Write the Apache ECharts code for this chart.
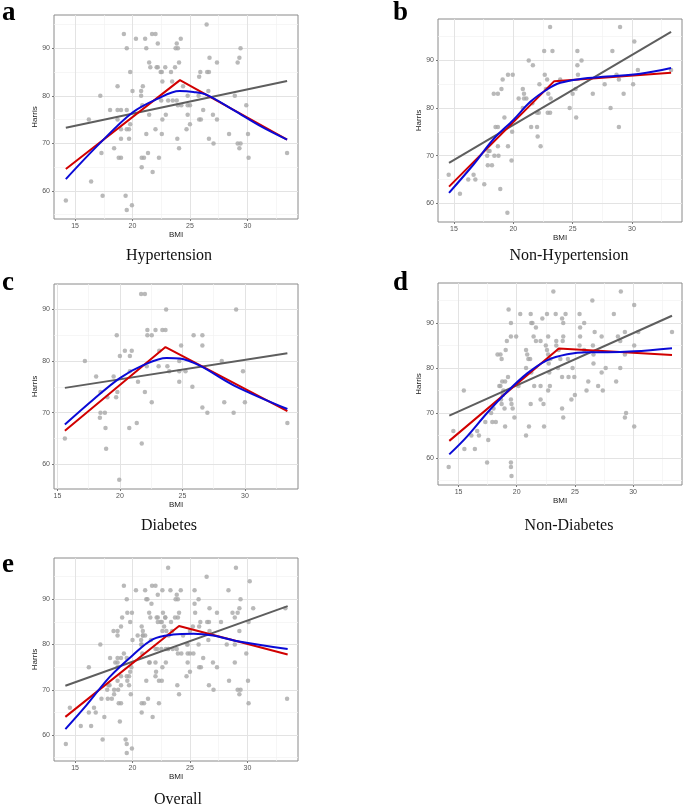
<!DOCTYPE html>
<html><head><meta charset="utf-8">
<script src="https://cdn.jsdelivr.net/npm/echarts@6/dist/echarts.min.js"></script>
<style>html,body{margin:0;padding:0;background:#fff}#c{width:685px;height:809px}</style>
</head><body><div id="c"></div>
<script>
// ---------- tick labels ----------
const xTicks = [15, 20, 25, 30];
const xMinor = [12.5, 17.5, 22.5, 27.5, 32.5];
const yTicks = [60, 70, 80, 90];
const yMinor = [55, 65, 75, 85, 95];

// ---------- panel titles ----------
const panelLetters = ['a', 'b', 'c', 'd', 'e'];
const panelTitles = ['Hypertension', 'Non-Hypertension', 'Diabetes', 'Non-Diabetes', 'Overall'];

// ---------- a: Hypertension (BMI, Harris) ----------
const hyperPts = [[14.2,58],[16.2,75],[16.4,62],[17.2,80],[17.3,68],[17.4,59],[18.05,77],[18.4,69],[18.7,82],[18.7,77],[18.7,75],[19.0,77],[18.8,67],[19.0,67],[19.0,73],[19.0,71],[19.25,93],[19.4,59],[19.5,90],[19.5,77],[19.5,73],[19.7,73],[19.5,56],[19.7,71],[19.8,85],[19.8,74],[19.95,57],[20.0,81],[20.3,92],[20.75,81],[20.75,80],[20.9,82],[20.85,78],[20.8,67],[21.0,67],[20.8,65],[21.1,92],[21.2,90],[21.2,72],[21.35,68],[21.45,87],[21.45,76],[21.55,86],[21.7,93],[21.75,64],[22.0,73],[22.0,93],[22.2,91],[22.1,86],[22.2,86],[22.3,67],[22.45,85],[22.55,85],[22.5,79],[22.6,83],[22.6,75],[22.55,72],[22.85,86],[22.9,76],[23.1,79],[23.35,85],[23.45,83],[23.5,79],[23.7,86],[23.85,91],[23.75,90],[23.95,90],[23.85,79],[23.9,71],[23.95,78],[24.05,87],[24.05,69],[24.2,92],[24.4,82],[24.25,78],[24.7,73],[24.8,80],[24.8,76],[24.8,78],[25.0,78],[25.0,74],[25.75,80],[25.8,84],[25.9,85],[25.8,75],[25.95,75],[26.15,77],[26.45,95],[26.5,85],[26.65,85],[26.6,81],[26.7,88],[26.65,71],[27.0,76],[27.05,70],[27.35,87],[27.35,75],[28.4,72],[28.9,80],[29.15,87],[29.3,88],[29.4,90],[29.15,70],[29.4,70],[29.3,69],[29.9,78],[30.05,72],[30.1,67],[33.45,68]];
const hyperLinear = [[14.2,73.3],[33.45,83.1]];
const hyperPiecewise = [[14.2,64.6],[24.13,83.3],[33.45,70.8]];
const hyperSmooth = [[14.2,62.5],[17.15,70],[20,76.5],[22.1,79.3],[24.1,81.0],[25.3,80.8],[26.45,80.2],[28.8,77],[31.1,73.7],[33.45,70.8]];

// ---------- b: Non-Hypertension ----------
const nonHyperPts = [[14.55,66],[15.5,62],[16.2,65],[16.65,66],[16.8,65],[17.55,64],[17.8,70],[17.9,71],[18.0,71],[17.85,68],[18.2,68],[18.35,83],[18.7,83],[18.5,76],[18.7,76],[18.4,70],[18.75,70],[18.7,72],[18.9,63],[19.0,84],[19.1,86],[19.25,78],[19.55,87],[19.55,72],[19.85,69],[19.9,75],[19.95,87],[19.5,58],[20.45,82],[20.8,84],[20.9,83],[20.9,82],[21.1,82],[20.8,80],[21.3,90],[21.5,76],[21.65,89],[21.6,81],[22.0,76],[22.05,74],[22.0,79],[22.15,79],[22.2,85],[22.3,72],[22.6,92],[22.65,87],[22.75,84],[22.85,86],[22.9,79],[23.1,79],[22.95,83],[23.1,97],[23.15,82],[23.3,92],[23.95,86],[24.75,80],[25.0,83],[25.25,84],[25.3,78],[25.4,92],[25.4,89],[25.45,87],[25.75,90],[26.7,83],[27.7,85],[28.2,80],[28.35,92],[28.7,87],[28.9,76],[29.0,97],[28.9,86],[29.3,83],[30.1,85],[30.2,94],[30.5,88],[33.3,88]];
const nonHyperLinear = [[14.58,68.5],[33.3,96.0]];
const nonHyperPiecewise = [[14.58,63.5],[23.45,85.65],[33.3,87.4]];
const nonHyperSmooth = [[14.58,62.2],[16.66,68.2],[18.34,73.5],[20,77.5],[21.43,81.3],[22.84,83.9],[23.96,85.3],[25.65,86.1],[27.9,86.6],[30.7,87.2],[33.3,88.4]];

// ---------- c: Diabetes ----------
const diabPts = [[15.6,65],[17.2,80],[18.1,77],[18.45,74],[18.4,69],[18.45,70],[18.8,70],[18.85,67],[18.9,63],[19.0,73],[19.5,77],[19.7,73],[19.75,85],[19.8,74],[20.0,81],[19.95,57],[20.4,82],[20.8,81],[20.8,78],[20.75,67],[20.95,82],[21.35,68],[21.45,76],[21.7,93],[22.0,93],[21.75,64],[22.0,74],[22.15,79],[22.2,86],[22.2,85],[22.55,85],[22.55,72],[22.85,86],[23.1,79],[23.15,82],[23.4,86],[23.65,86],[23.7,90],[23.8,79],[23.95,78],[24.75,80],[24.75,78],[24.75,76],[24.9,83],[25.25,78],[25.8,75],[25.9,85],[26.6,85],[26.6,83],[26.6,71],[27.0,70],[28.15,80],[28.35,72],[29.1,70],[29.3,90],[29.85,78],[30.0,72],[33.4,68]];
const diabLinear = [[15.6,74.8],[33.4,81.5]];
const diabPiecewise = [[15.6,66.5],[23.65,82.7],[33.4,70.3]];
const diabSmooth = [[15.6,67.7],[17.86,72.5],[20,76.7],[21.87,79.2],[23.74,80.6],[24.8,80.5],[26.4,79.1],[29.1,75.3],[33.4,70.7]];

// ---------- d: Non-Diabetes ----------
const nonDiabPts = [[14.15,58],[14.55,66],[15.5,62],[15.45,75],[16.1,65],[16.4,62],[16.6,66],[16.75,65],[17.3,68],[17.55,64],[17.45,59],[17.8,70],[18.0,71],[17.9,68],[18.2,68],[18.35,83],[18.6,83],[18.7,82],[18.5,76],[18.6,76],[18.75,77],[19.0,77],[18.65,73],[18.8,74],[18.7,72],[18.85,75],[18.95,71],[19.0,67],[19.05,84],[19.15,86],[19.25,78],[19.3,93],[19.5,90],[19.5,87],[19.5,73],[19.55,72],[19.5,59],[19.5,58],[19.55,56],[19.65,71],[19.8,69],[19.95,87],[20.15,76],[20.3,92],[20.8,84],[20.8,65],[20.9,83],[21.0,82],[21.15,82],[20.8,80],[21.05,67],[21.2,92],[21.2,72],[21.25,90],[21.35,90],[21.25,79],[21.45,87],[21.5,76],[21.65,86],[21.65,89],[22.05,86],[22.05,76],[22.05,73],[22.2,91],[22.3,72],[22.35,67],[22.5,85],[22.6,92],[22.7,87],[22.6,84],[22.7,83],[22.75,81],[22.85,76],[22.8,79],[22.9,82],[22.7,75],[23.15,97],[23.35,92],[23.4,86],[23.4,85],[23.55,80],[23.6,84],[23.75,82],[23.9,91],[24.0,90],[24.0,87],[23.95,86],[23.9,78],[23.9,71],[24.0,69],[24.2,92],[24.4,82],[24.45,78],[24.7,73],[24.8,80],[24.95,78],[25.0,74],[25.4,92],[25.45,89],[25.45,87],[25.4,85],[25.8,90],[25.8,84],[26.0,75],[26.15,77],[26.5,95],[26.55,85],[26.6,83],[26.6,81],[26.7,88],[27.0,76],[27.3,87],[27.3,79],[27.4,75],[27.65,80],[28.35,92],[28.55,77],[28.7,87],[28.9,80],[28.95,97],[28.9,86],[29.3,88],[29.3,83],[29.4,70],[29.3,69],[30.1,94],[30.1,85],[30.1,67],[30.45,88],[33.35,88]];
const nonDiabLinear = [[14.2,69.4],[33.35,91.6]];
const nonDiabPiecewise = [[14.2,63.8],[23.62,84.3],[33.35,82.9]];
const nonDiabSmooth = [[14.2,60.8],[15.7,64.7],[17.45,70],[19.17,74.7],[20.9,78.8],[22.6,81.7],[24.34,83.05],[26.06,83.5],[27.8,83.5],[30.1,83.7],[33.35,84.4]];

// ---------- e: Overall ----------
const overallPts = hyperPts.concat(nonHyperPts);
const overallLinear = [[14.16,70.9],[33.5,88.5]];
const overallPiecewise = [[14.16,64.0],[24.05,84.1],[33.5,77.8]];
const overallSmooth = [[14.16,61.3],[16,66.6],[18,72.8],[20,77.6],[21.8,81.2],[23.55,82.2],[25.3,82.4],[27,82.0],[29.4,80.6],[33.5,79.0]];

// ---------- layout (pixels) and axis ranges ----------
const panels = [
  {grid:{left:54, top:15, width:244, height:204}, x:[13.17,34.4], y:[54.1,97.0], pts:hyperPts, lin:hyperLinear, pw:hyperPiecewise, sm:hyperSmooth, letter:[2,13], title:[169,256]},
  {grid:{left:438, top:19, width:244, height:203}, x:[13.65,34.22], y:[56.07,98.7], pts:nonHyperPts, lin:nonHyperLinear, pw:nonHyperPiecewise, sm:nonHyperSmooth, letter:[393,13], title:[569,256]},
  {grid:{left:54, top:284, width:244, height:205}, x:[14.73,34.25], y:[55.2,94.93], pts:diabPts, lin:diabLinear, pw:diabPiecewise, sm:diabSmooth, letter:[2,283], title:[169,526]},
  {grid:{left:438, top:283, width:244, height:202}, x:[13.23,34.21], y:[54.0,98.87], pts:nonDiabPts, lin:nonDiabLinear, pw:nonDiabPiecewise, sm:nonDiabSmooth, letter:[393,283], title:[569,526]},
  {grid:{left:54, top:558, width:244, height:203}, x:[13.17,34.4], y:[54.25,99.13], pts:overallPts, lin:overallLinear, pw:overallPiecewise, sm:overallSmooth, letter:[2,565], title:[178,800]}
];

const SANS = '"Liberation Sans", Arial, sans-serif';
const SERIF = '"Liberation Serif", "Times New Roman", serif';
const majStyle = {color:'#e3e3e3', width:1, type:'solid'};
const minStyle = {color:'#f2f2f2', width:0.7, type:'solid'};

const grids = [], xAxes = [], yAxes = [], series = [], graphics = [];
panels.forEach((p, i) => {
  grids.push(Object.assign({show:true, borderColor:'#8a8a8a', borderWidth:1, backgroundColor:'#fff'}, p.grid));
  xAxes.push({
    gridIndex:i, type:'value', min:p.x[0], max:p.x[1],
    axisLine:{show:false}, splitLine:{show:false},
    axisTick:{show:true, length:2, customValues:xTicks, lineStyle:{color:'#777'}},
    axisLabel:{customValues:xTicks, fontSize:7, color:'#555', margin:4, fontFamily:SANS},
    name:'BMI', nameLocation:'middle', nameGap:12,
    nameTextStyle:{fontSize:8, color:'#222', fontFamily:SANS}
  });
  yAxes.push({
    gridIndex:i, type:'value', min:p.y[0], max:p.y[1],
    axisLine:{show:false}, splitLine:{show:false},
    axisTick:{show:true, length:2, customValues:yTicks, lineStyle:{color:'#777'}},
    axisLabel:{customValues:yTicks, fontSize:7, color:'#555', margin:4, fontFamily:SANS},
    name:'Harris', nameLocation:'middle', nameGap:13, nameRotate:90,
    nameTextStyle:{fontSize:8, color:'#222', fontFamily:SANS}
  });
  const inX = v => v > p.x[0] && v < p.x[1];
  const inY = v => v > p.y[0] && v < p.y[1];
  const gl = [].concat(
    xMinor.filter(inX).map(v => ({xAxis:v, lineStyle:minStyle})),
    yMinor.filter(inY).map(v => ({yAxis:v, lineStyle:minStyle})),
    xTicks.filter(inX).map(v => ({xAxis:v, lineStyle:majStyle})),
    yTicks.filter(inY).map(v => ({yAxis:v, lineStyle:majStyle}))
  );
  series.push({
    type:'scatter', xAxisIndex:i, yAxisIndex:i, data:p.pts, symbolSize:4.5,
    itemStyle:{color:'#a8a8a8'}, z:2, silent:true,
    markLine:{z:1, silent:true, symbol:['none','none'], label:{show:false}, emphasis:{disabled:true}, animation:false, data:gl}
  });
  series.push({type:'line', xAxisIndex:i, yAxisIndex:i, data:p.lin, symbol:'none', lineStyle:{color:'#5e5e5e', width:2}, z:3, silent:true});
  series.push({type:'line', xAxisIndex:i, yAxisIndex:i, data:p.pw, symbol:'none', lineStyle:{color:'#d10000', width:2}, z:4, silent:true});
  series.push({type:'line', xAxisIndex:i, yAxisIndex:i, data:p.sm, smooth:0.35, symbol:'none', lineStyle:{color:'#0a0ad6', width:2}, z:5, silent:true});
  graphics.push({type:'text', x:p.letter[0], y:p.letter[1], style:{text:panelLetters[i], font:'bold 27px ' + SERIF, fill:'#000', align:'left', verticalAlign:'middle'}});
  graphics.push({type:'text', x:p.title[0], y:p.title[1], style:{text:panelTitles[i], font:'16px ' + SERIF, fill:'#111', align:'center', verticalAlign:'middle'}});
});

const chart = echarts.init(document.getElementById('c'), null, {renderer:'canvas'});
chart.setOption({
  backgroundColor:'#fff', animation:false,
  grid:grids, xAxis:xAxes, yAxis:yAxes, series:series, graphic:graphics
});
</script></body></html>
